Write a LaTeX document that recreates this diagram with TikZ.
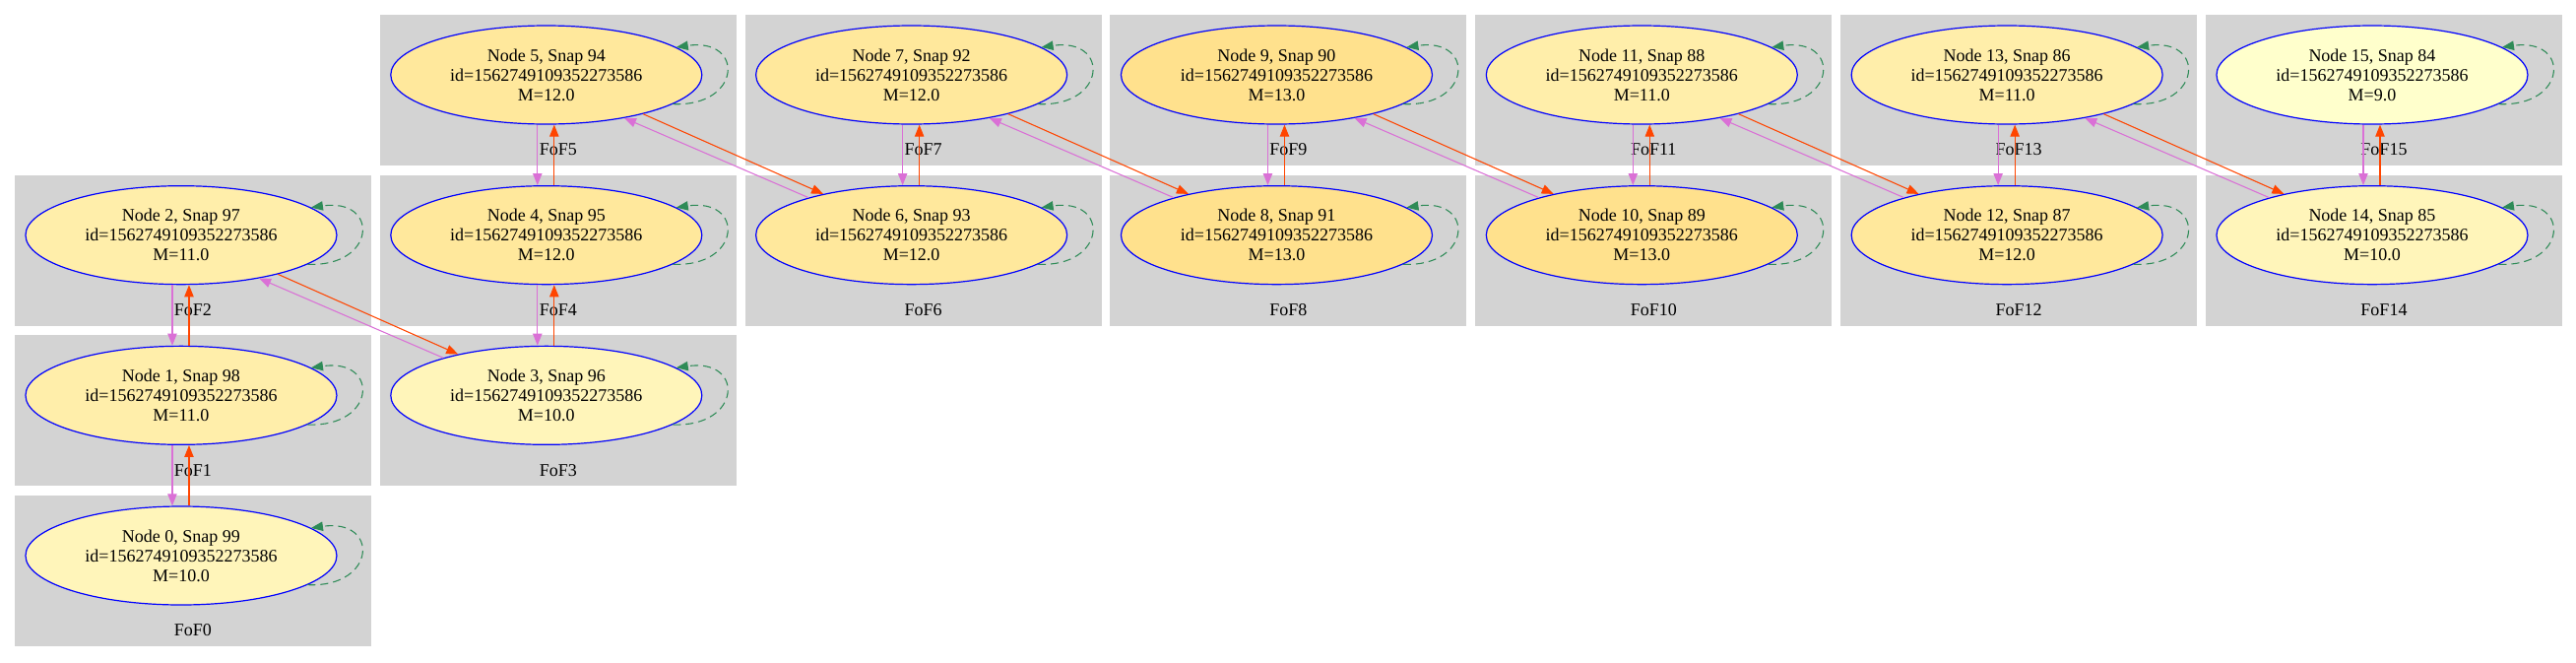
\documentclass[tikz,border=0pt]{standalone}
\usepackage{fontspec}
\setmainfont{Liberation Serif}
\usetikzlibrary{shapes.geometric, positioning, arrows.meta, backgrounds}

\definecolor{fofgray}{HTML}{D3D3D3}
\definecolor{orchid}{HTML}{DA70D6}
\definecolor{orangered}{HTML}{FF4500}
\definecolor{seagreen}{HTML}{2E8B57}
\definecolor{mnine}{HTML}{FFFFCC}
\definecolor{mten}{HTML}{FFF5BA}
\definecolor{meleven}{HTML}{FFEEAA}
\definecolor{mtwelve}{HTML}{FFE89C}
\definecolor{mthirteen}{HTML}{FFE18D}

\newcommand{\snaptext}[3]{Node #1, Snap #2\\id=1562749109352273586\\M=#3}

\tikzset{
    >={Triangle[length=9pt, width=7pt]}, % filled arrow heads
    snap/.style={ellipse, draw=blue, line width=0.9pt, minimum width=237pt,
        minimum height=75pt, inner sep=0pt, align=center,
        font=\fontsize{13.5}{15}\selectfont}, % one halo per snapshot
    fof/.style={fill=fofgray}, % the grey cluster boxes
    foflabel/.style={font=\fontsize{13.5}{15}\selectfont},
    fwd/.style={->, draw=orangered, line width=0.8pt}, % k -> k+1
    bwd/.style={->, draw=orchid, line width=0.8pt}, % k+1 -> k
    selfloop/.style={->, draw=seagreen, line width=0.8pt, dash pattern=on 6pt off 3.75pt},
}

\begin{document}
\begin{tikzpicture}[x=0.75pt, y=-0.75pt, node distance=122pt and 278.125pt, on grid]
    \useasboundingbox (0,0) rectangle (2616,672);

    \node[snap, fill=mtwelve] (n5) at (554.8,76) {\snaptext{5}{94}{12.0}};
    \node[snap, fill=mtwelve, below=of n5] (n4) {\snaptext{4}{95}{12.0}};
    \node[snap, fill=mten, below=of n4] (n3) {\snaptext{3}{96}{10.0}};
    \node[snap, fill=meleven, left=of n4] (n2) {\snaptext{2}{97}{11.0}};
    \node[snap, fill=meleven, below=of n2] (n1) {\snaptext{1}{98}{11.0}};
    \node[snap, fill=mten, below=of n1] (n0) {\snaptext{0}{99}{10.0}};
    \node[snap, fill=mtwelve, right=of n4] (n6) {\snaptext{6}{93}{12.0}};
    \node[snap, fill=mtwelve, above=of n6] (n7) {\snaptext{7}{92}{12.0}};
    \node[snap, fill=mthirteen, right=of n6] (n8) {\snaptext{8}{91}{13.0}};
    \node[snap, fill=mthirteen, above=of n8] (n9) {\snaptext{9}{90}{13.0}};
    \node[snap, fill=mthirteen, right=of n8] (n10) {\snaptext{10}{89}{13.0}};
    \node[snap, fill=meleven, above=of n10] (n11) {\snaptext{11}{88}{11.0}};
    \node[snap, fill=mtwelve, right=of n10] (n12) {\snaptext{12}{87}{12.0}};
    \node[snap, fill=meleven, above=of n12] (n13) {\snaptext{13}{86}{11.0}};
    \node[snap, fill=mten, right=of n12] (n14) {\snaptext{14}{85}{10.0}};
    \node[snap, fill=mnine, above=of n14] (n15) {\snaptext{15}{84}{9.0}};

    % cluster boxes behind the halos
    \begin{scope}[on background layer]
        \foreach \k in {0,...,15} {
            \fill[fof] ([shift={(-169,-61)}]n\k.center) rectangle ([shift={(193,92)}]n\k.center);
            \node[foflabel] (lab\k) at ([shift={(12,76)}]n\k.center) {FoF\k};
        }
    \end{scope}

    % links inside a column
    \foreach \a/\b in {0/1,1/2,3/4,4/5,6/7,8/9,10/11,12/13,14/15} {
        \draw[bwd] ([shift={(-9,0)}]n\b.south) -- ([shift={(-9,0)}]n\a.north);
        \draw[fwd] ([shift={(8,0)}]n\a.north) -- ([shift={(8,0)}]n\b.south);
    }
    % links to the next column
    \foreach \a/\b in {2/3,5/6,7/8,9/10,11/12,13/14} {
        \draw[fwd] (n\a.-22) -- (n\b.155);
        \draw[bwd] (n\b.160) -- (n\a.-29);
    }
    \foreach \k in {0,...,15}
        \draw[selfloop] (n\k.-13) .. controls +(70,3) and +(70,-10) .. (n\k.12);
\end{tikzpicture}
\end{document}
